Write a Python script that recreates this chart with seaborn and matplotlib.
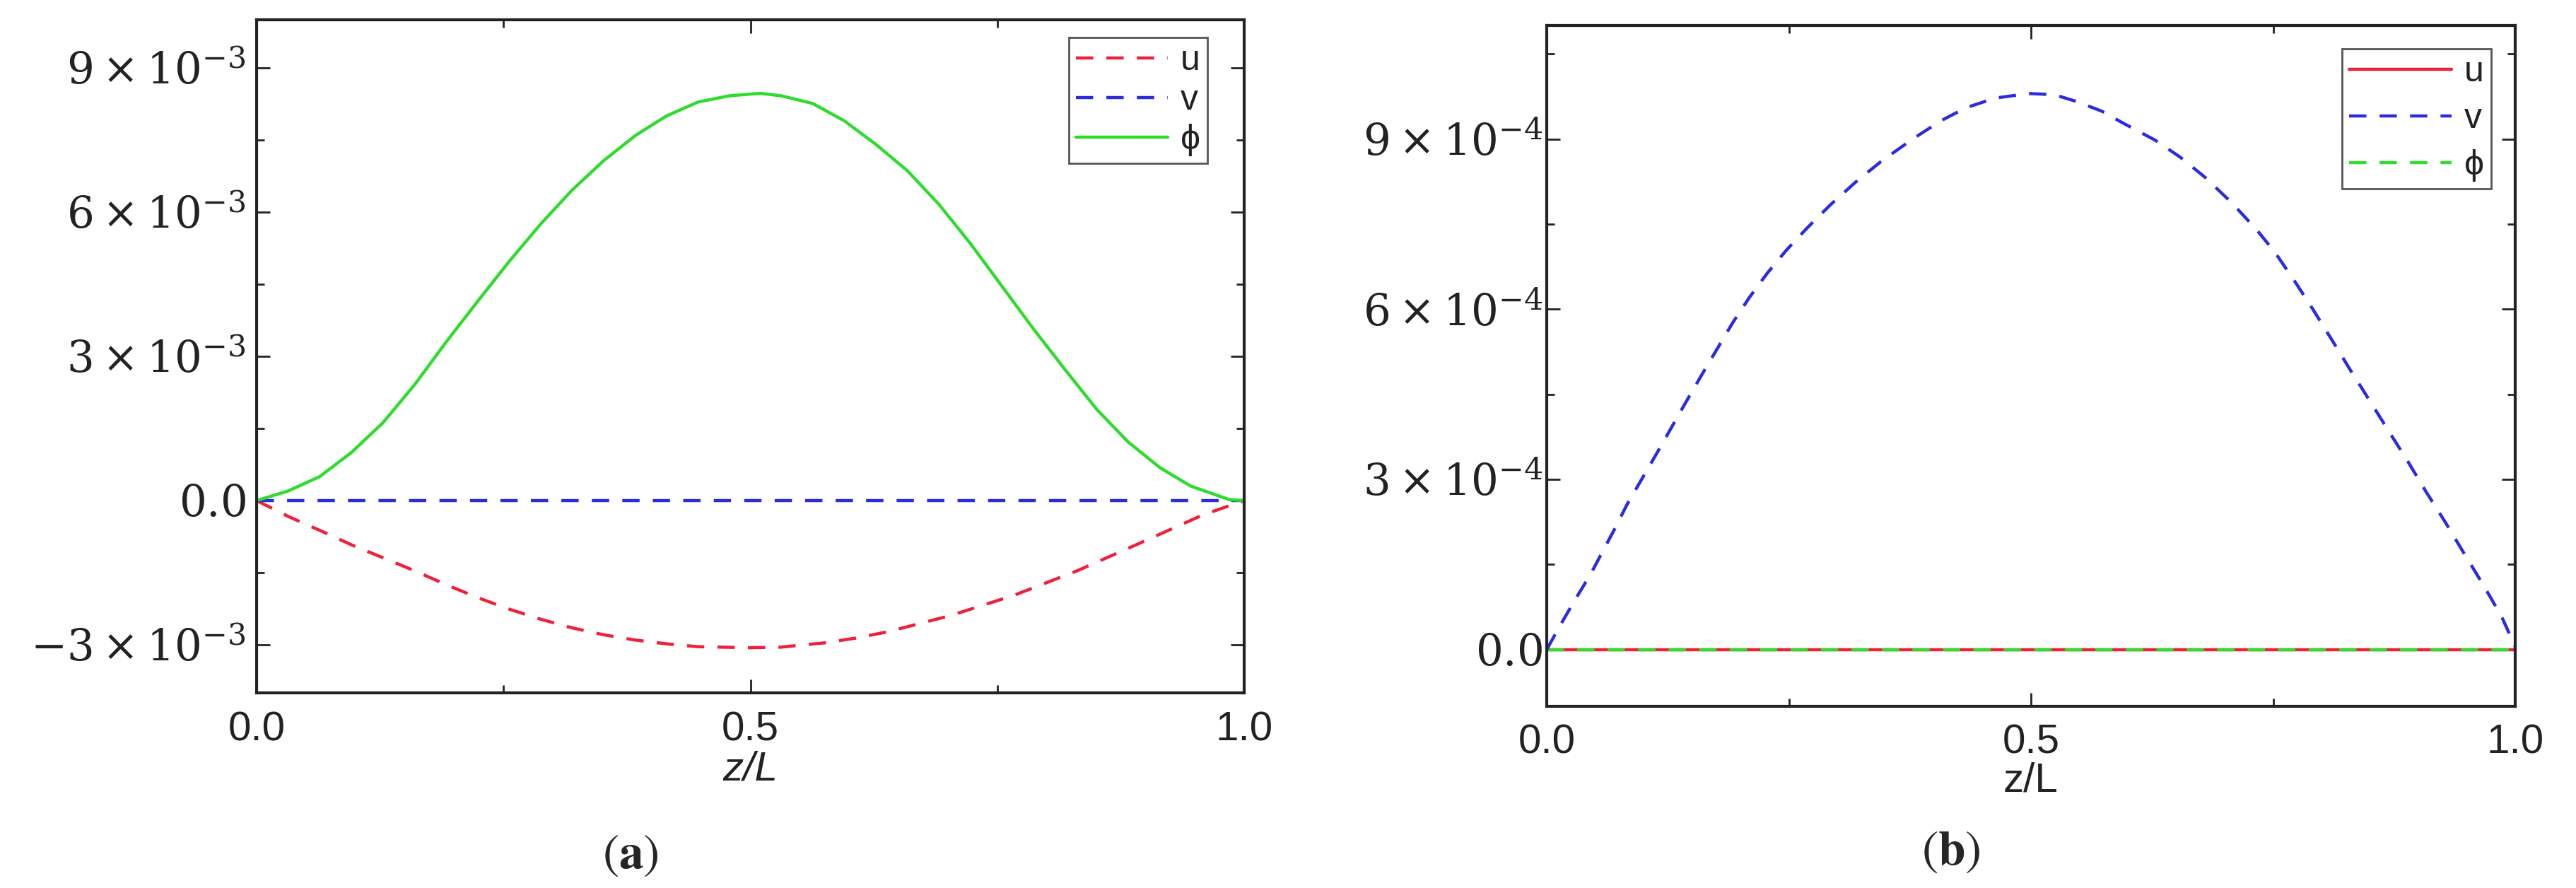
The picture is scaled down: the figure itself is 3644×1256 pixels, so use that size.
import matplotlib
matplotlib.use("Agg")
import matplotlib.pyplot as plt
from matplotlib.ticker import MultipleLocator, FixedLocator, FuncFormatter
import pandas as pd
import seaborn as sns

# ---- panel (a) values (y in units of 1e-3) ----
a_phi_z = [0.0, 0.032, 0.064, 0.096, 0.128, 0.16, 0.192, 0.224, 0.256, 0.288, 0.32,
           0.352, 0.384, 0.415, 0.447, 0.479, 0.51, 0.531, 0.563, 0.595, 0.627, 0.659,
           0.691, 0.723, 0.755, 0.787, 0.818, 0.851, 0.883, 0.915, 0.946, 0.985, 1.0]
a_phi_val = [0.0, 0.2, 0.5, 1.0, 1.62, 2.41, 3.3, 4.15, 4.98, 5.76, 6.47,
             7.08, 7.6, 8.0, 8.29, 8.42, 8.47, 8.42, 8.26, 7.9, 7.41, 6.86,
             6.16, 5.34, 4.45, 3.56, 2.74, 1.89, 1.21, 0.68, 0.3, 0.02, 0.0]
a_u_z = [0.0, 0.032, 0.064, 0.096, 0.128, 0.16, 0.192, 0.224, 0.256, 0.288, 0.32,
         0.351, 0.383, 0.415, 0.447, 0.498, 0.53, 0.575, 0.607, 0.639, 0.703, 0.767,
         0.831, 0.895, 0.958, 1.0]
a_u_val = [0.0, -0.33, -0.62, -0.92, -1.19, -1.46, -1.75, -2.02, -2.26, -2.47, -2.65,
           -2.79, -2.9, -2.98, -3.04, -3.06, -3.05, -2.96, -2.86, -2.73, -2.39, -1.97,
           -1.46, -0.88, -0.3, 0.0]
a_v_z = [0.0, 1.0]
a_v_val = [0.0, 0.0]

# ---- panel (b) values (y in units of 1e-4) ----
b_v_z = [0.0, 0.013, 0.029, 0.046, 0.059, 0.07, 0.083, 0.098, 0.114, 0.129, 0.143,
         0.16, 0.176, 0.192, 0.209, 0.228, 0.248, 0.27, 0.293, 0.319, 0.345, 0.378,
         0.407, 0.433, 0.463, 0.498, 0.524, 0.547, 0.573, 0.595, 0.628, 0.654, 0.68,
         0.707, 0.733, 0.752, 0.772, 0.791, 0.811, 0.83, 0.85, 0.869, 0.889, 0.908,
         0.928, 0.947, 0.967, 0.986, 1.0]
b_v_val = [0.0, 0.4, 0.87, 1.35, 1.77, 2.12, 2.56, 3.0, 3.47, 3.92, 4.34,
           4.84, 5.3, 5.76, 6.2, 6.64, 7.05, 7.45, 7.84, 8.24, 8.6, 9.0,
           9.32, 9.55, 9.72, 9.8, 9.78, 9.66, 9.49, 9.28, 8.98, 8.68, 8.32,
           7.88, 7.4, 7.0, 6.5, 6.0, 5.45, 4.92, 4.38, 3.86, 3.32, 2.78,
           2.24, 1.7, 1.14, 0.58, 0.05]
b_u_z = [0.0, 1.0]
b_u_val = [0.0, 0.0]
b_phi_z = [0.0, 1.0]
b_phi_val = [0.0, 0.0]

labels = ["u", "v", "ϕ"]
RED, BLUE, GREEN = "#F0203A", "#2B2BE0", "#2EDC2E"

sns.set_theme(style="ticks")
plt.rcParams["font.family"] = ["Liberation Sans", "DejaVu Sans"]
plt.rcParams["mathtext.fontset"] = "dejavuserif"

fig = plt.figure(figsize=(36.44, 12.56), dpi=100)
ax_a = fig.add_axes([363 / 3644, 1 - 980 / 1256, 1397 / 3644, 952 / 1256])
ax_b = fig.add_axes([2188 / 3644, 1 - 999 / 1256, 1370 / 3644, 963 / 1256])

LW = 3.2
DASH = (5.5, 4.2)


def draw(ax, z, val, scale, color, dashed):
    df = pd.DataFrame({"z": z, "val": [v * scale for v in val]})
    sns.lineplot(data=df, x="z", y="val", ax=ax, color=color, linewidth=LW,
                 estimator=None, sort=False, legend=False)
    line = ax.lines[-1]
    if dashed:
        line.set_dashes(DASH)
    return line


# panel (a)
la_u = draw(ax_a, a_u_z, a_u_val, 1e-3, RED, True)
la_v = draw(ax_a, a_v_z, a_v_val, 1e-3, BLUE, True)
la_p = draw(ax_a, a_phi_z, a_phi_val, 1e-3, GREEN, False)

# panel (b)
lb_u = draw(ax_b, b_u_z, b_u_val, 1e-4, RED, False)
lb_p = draw(ax_b, b_phi_z, b_phi_val, 1e-4, GREEN, True)
lb_v = draw(ax_b, b_v_z, b_v_val, 1e-4, BLUE, True)


def sci_fmt(exp):
    def f(v, pos):
        m = round(v / 10 ** exp)
        if m == 0:
            return r"$0.0\;\;$"
        return r"$%d\times10^{%d}$" % (m, exp)
    return f


for ax, exp, lim, pad in [(ax_a, -3, (-4e-3, 10e-3), 11), (ax_b, -4, (-1e-4, 11e-4), 4)]:
    ax.set_xlim(0, 1)
    ax.set_ylim(*lim)
    step = 3 * 10 ** exp
    ax.yaxis.set_major_locator(MultipleLocator(step))
    ax.yaxis.set_minor_locator(MultipleLocator(step / 2))
    ax.yaxis.set_major_formatter(FuncFormatter(sci_fmt(exp)))
    ax.xaxis.set_major_locator(FixedLocator([0.0, 0.5, 1.0]))
    ax.xaxis.set_minor_locator(FixedLocator([0.25, 0.75]))
    ax.xaxis.set_major_formatter(FuncFormatter(lambda v, p: "%.1f" % v))
    ax.tick_params(which="both", direction="in", top=True, right=True,
                   color="#222222", width=2)
    ax.tick_params(which="major", length=14)
    ax.tick_params(which="minor", length=8)
    ax.tick_params(axis="x", which="major", labelsize=42, pad=18, labelcolor="#222222")
    ax.tick_params(axis="y", which="major", labelsize=44, pad=pad, labelcolor="#222222")
    for s in ax.spines.values():
        s.set_linewidth(3)
        s.set_color("#222222")
    ax.set_ylabel("")
    ax.grid(False)

ax_a.set_xlabel("z/L", fontsize=42, style="italic", labelpad=2, color="#222222")
ax_b.set_xlabel("z/L", fontsize=42, labelpad=0, color="#222222")

leg_kw = dict(loc="upper left", bbox_transform=fig.transFigure, borderaxespad=0,
              frameon=True, fancybox=False, fontsize=36, handletextpad=0.35,
              borderpad=0.2)
leg_a = ax_a.legend([la_u, la_v, la_p], labels, bbox_to_anchor=(1512 / 3644, 1 - 53 / 1256),
                    handlelength=2.6, labelspacing=0.2, **leg_kw)
leg_b = ax_b.legend([lb_u, lb_v, lb_p], labels, bbox_to_anchor=(3313 / 3644, 1 - 69 / 1256),
                    handlelength=2.9, labelspacing=0.4, **leg_kw)
for leg in (leg_a, leg_b):
    fr = leg.get_frame()
    fr.set_edgecolor("#555555")
    fr.set_linewidth(2)
    fr.set_alpha(1)
    for t in leg.get_texts():
        t.set_color("#222222")

fig.text(892 / 3644, 1 - 1210 / 1256, r"$(\mathbf{a})$", math_fontfamily="stix",
         ha="center", va="center", fontsize=50)
fig.text(2760 / 3644, 1 - 1205 / 1256, r"$(\mathbf{b})$", math_fontfamily="stix",
         ha="center", va="center", fontsize=50)

fig.savefig("out.png", dpi=100, facecolor="white")
